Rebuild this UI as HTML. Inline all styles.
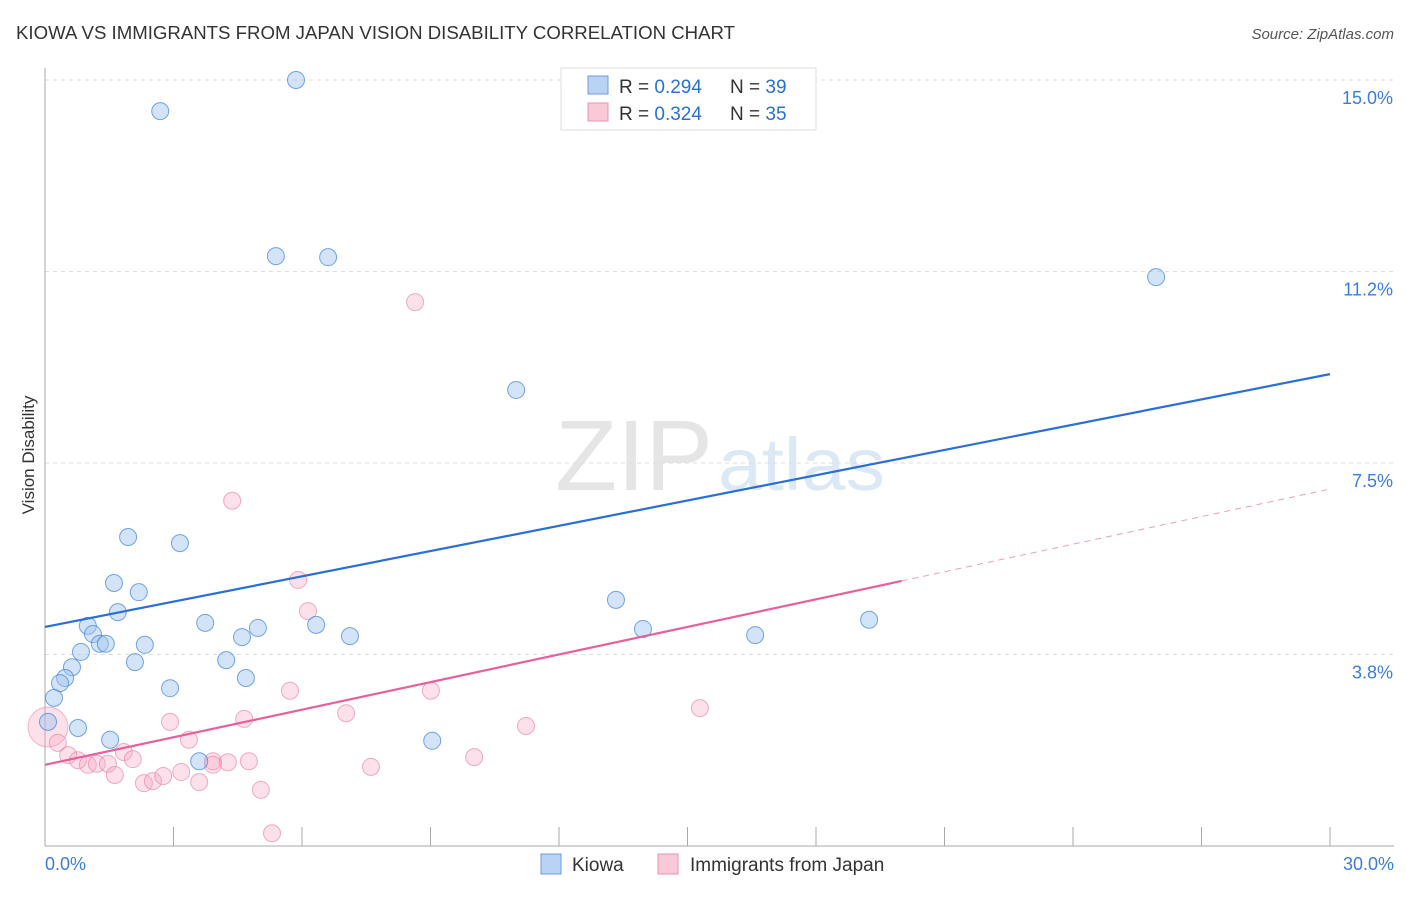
<!DOCTYPE html>
<html><head><meta charset="utf-8"><style>
body{margin:0;background:#fff;font-family:"Liberation Sans",sans-serif;}
svg text{font-family:"Liberation Sans",sans-serif;}
</style></head><body>
<svg id="chart" width="1406" height="892">
<text x="16" y="39" font-size="18" fill="#333" textLength="719" lengthAdjust="spacingAndGlyphs">KIOWA VS IMMIGRANTS FROM JAPAN VISION DISABILITY CORRELATION CHART</text>
<text x="1394" y="39" font-size="15" fill="#555" font-style="italic" text-anchor="end">Source: ZipAtlas.com</text>
<text x="34" y="455" font-size="17" fill="#333" transform="rotate(-90 34 455)" text-anchor="middle">Vision Disability</text>
<g opacity="0.5">
<text x="555" y="490" font-size="100" font-family="Liberation Serif,serif" fill="#ccc" textLength="158" lengthAdjust="spacingAndGlyphs">ZIP</text>
<text x="718" y="490" font-size="74" fill="#b9d3ee" textLength="167" lengthAdjust="spacingAndGlyphs">atlas</text>
</g>
<g id="grid"></g><g id="axes"></g><g id="marks"></g>
<g>
<rect x="561" y="68" width="255" height="62" fill="#fff" stroke="#ddd"/>
<rect x="588" y="76" width="20" height="18" fill="#b9d3f5" stroke="#6a9be0"/>
<rect x="588" y="103" width="20" height="18" fill="#f9c9d8" stroke="#e893ad"/>
<text x="619" y="93" font-size="19" fill="#333">R = <tspan fill="#2a6fd6">0.294</tspan></text>
<text x="730" y="93" font-size="19" fill="#333">N = <tspan fill="#2a6fd6">39</tspan></text>
<text x="619" y="120" font-size="19" fill="#333">R = <tspan fill="#2a6fd6">0.324</tspan></text>
<text x="730" y="120" font-size="19" fill="#333">N = <tspan fill="#2a6fd6">35</tspan></text>
</g>
<g>
<rect x="541" y="854" width="20" height="20" fill="#b9d3f5" stroke="#6a9be0"/>
<text x="572" y="871" font-size="19" fill="#333">Kiowa</text>
<rect x="658" y="854" width="20" height="20" fill="#f9c9d8" stroke="#e893ad"/>
<text x="690" y="871" font-size="19" fill="#333">Immigrants from Japan</text>
</g>
</svg>
<script>
const yTicks=[3.75,7.5,11.25,15];
const yTickLabels=["3.8%","7.5%","11.2%","15.0%"];
const xTicks=[0,3,6,9,12,15,18,21,24,27,30];
const kiowaX=[2.69,5.86,5.39,6.61,25.94,11.0,1.94,3.15,1.61,2.19,1.70,13.33,1.0,1.12,1.28,1.42,2.33,3.74,4.60,4.97,6.33,7.12,13.96,16.58,19.24,2.10,4.23,0.84,0.63,0.47,0.35,0.21,2.92,4.69,0.77,0.07,1.52,3.60,9.04];
const kiowaY=[14.39,15.0,11.55,11.53,11.14,8.93,6.05,5.93,5.15,4.97,4.58,4.82,4.31,4.15,3.96,3.96,3.94,4.37,4.09,4.27,4.33,4.11,4.25,4.13,4.43,3.60,3.64,3.80,3.50,3.29,3.19,2.90,3.09,3.29,2.31,2.43,2.08,1.66,2.06];
const japanX=[8.64,4.37,5.91,6.14,5.72,9.01,15.29,7.03,4.65,2.92,11.23,3.36,0.30,0.54,0.77,1.0,1.21,1.47,1.84,2.05,1.63,2.31,2.52,2.76,3.18,3.60,3.92,3.92,4.27,4.76,5.04,7.61,10.02,5.30];
const japanY=[10.65,6.76,5.21,4.60,3.04,3.04,2.70,2.60,2.49,2.43,2.35,2.08,2.02,1.78,1.68,1.59,1.61,1.61,1.84,1.70,1.39,1.23,1.27,1.37,1.45,1.25,1.66,1.59,1.64,1.66,1.10,1.55,1.74,0.25];
const japanBigPoint=[0.07,2.33];
const kiowaTrend=[4.29,0.165];
const japanTrend=[1.59,0.18];
const japanSolidEnd=20;
const X=v=>45+v*42.833, Y=v=>846-v*51.07;
const NS="http://www.w3.org/2000/svg";
function mk(t,a,p){const e=document.createElementNS(NS,t);for(const k in a)e.setAttribute(k,a[k]);p.appendChild(e);return e;}
const grid=document.getElementById('grid'),axes=document.getElementById('axes'),marks=document.getElementById('marks');
yTicks.forEach((t,i)=>{
 const l=mk('line',{x1:45,x2:1394,y1:Y(t),y2:Y(t),stroke:'#ddd','stroke-dasharray':'4 4'},grid);
 
 
 const tx=mk('text',{x:1393,y:Y(t)+24,'font-size':18,fill:'#3b7ddd','text-anchor':'end'},axes);
 tx.textContent=yTickLabels[i];
 
 
});
const ax=mk('line',{x1:45,x2:1394,y1:846,y2:846,stroke:'#aaa'},axes);


const ay=mk('line',{x1:45,x2:45,y1:68,y2:846,stroke:'#aaa'},axes);


xTicks.forEach(t=>{const l=mk('line',{x1:X(t),x2:X(t),y1:827,y2:846,stroke:'#aaa'},axes);
 
 });
[[0,'0.0%','start',45],[30,'30.0%','end',1394]].forEach(d=>{const t=mk('text',{x:d[3],y:870,'font-size':18,fill:'#3b7ddd','text-anchor':d[2]},axes);t.textContent=d[1];
 
 });
const bp=mk('circle',{cx:X(japanBigPoint[0]),cy:Y(japanBigPoint[1]),r:20,fill:'rgba(246,170,195,0.35)',stroke:'rgba(232,120,160,0.5)'},marks);


japanX.forEach((x,i)=>{const c=mk('circle',{cx:X(x),cy:Y(japanY[i]),r:8.5,fill:'rgba(246,170,195,0.35)',stroke:'rgba(232,120,160,0.6)'},marks);
 
 });
kiowaX.forEach((x,i)=>{const c=mk('circle',{cx:X(x),cy:Y(kiowaY[i]),r:8.5,fill:'rgba(160,196,240,0.45)',stroke:'rgba(60,130,220,0.7)'},marks);
 
 });
const kl=mk('line',{x1:X(0),y1:Y(kiowaTrend[0]),x2:X(30),y2:Y(kiowaTrend[0]+30*kiowaTrend[1]),stroke:'#2a6fd6','stroke-width':2.2},marks);


const jl=mk('line',{x1:X(0),y1:Y(japanTrend[0]),x2:X(japanSolidEnd),y2:Y(japanTrend[0]+japanSolidEnd*japanTrend[1]),stroke:'#e8609a','stroke-width':2.2},marks);


const jd=mk('line',{x1:X(japanSolidEnd),y1:Y(japanTrend[0]+japanSolidEnd*japanTrend[1]),x2:X(30),y2:Y(japanTrend[0]+30*japanTrend[1]),stroke:'#e8a0bc','stroke-width':1,'stroke-dasharray':'6 5'},marks);


</script>
</body></html>
